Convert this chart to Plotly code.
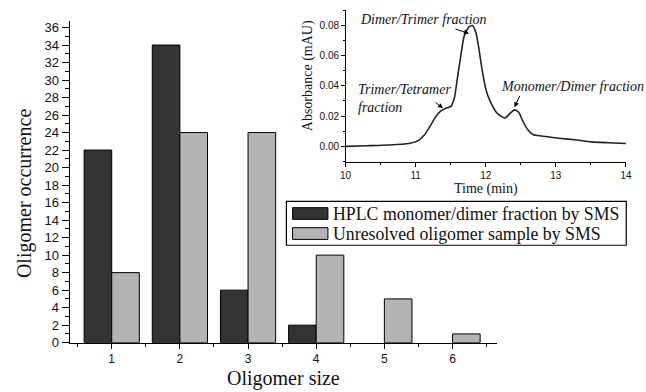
import plotly.graph_objects as go

# ---- data ----
oligomer_size = [1, 2, 3, 4, 5, 6]
hplc_counts = [22, 34, 6, 2, 0, 0]
unresolved_counts = [8, 24, 24, 10, 5, 1]
series_names = ["HPLC monomer/dimer fraction by SMS", "Unresolved oligomer sample by SMS"]

time_min = [10.0, 10.3, 10.62, 10.9, 11.04, 11.13, 11.22, 11.29, 11.36, 11.43, 11.5, 11.55,
            11.6, 11.65, 11.69, 11.76, 11.81, 11.86, 11.9, 11.95, 12.0, 12.06, 12.16, 12.27,
            12.34, 12.41, 12.47, 12.53, 12.6, 12.67, 12.86, 13.04, 13.3, 13.51, 13.75, 14.0]
absorbance = [0.0, 0.0004, 0.0009, 0.0019, 0.004, 0.0079, 0.0144, 0.0198, 0.0234, 0.0252,
              0.0262, 0.0316, 0.0466, 0.0617, 0.0725, 0.0789, 0.0798, 0.075, 0.065, 0.050,
              0.038, 0.030, 0.022, 0.0187, 0.0215, 0.0241, 0.0225, 0.0166, 0.011, 0.0079,
              0.0065, 0.0054, 0.0042, 0.003, 0.0024, 0.0019]

W, H = 646, 392
SERIF = "Liberation Serif, Times New Roman, serif"
SANS = "Liberation Sans, Arial, sans-serif"
DARK = "#333333"
LIGHT = "#b4b4b4"
TXT = "#111111"


def px(x):
    return x / W


def py(y):
    return 1 - y / H


def nz(vals):
    # zero counts draw no bar
    return [v if v > 0 else None for v in vals]


fig = go.Figure()
fig.add_trace(go.Bar(x=oligomer_size, y=nz(hplc_counts), name=series_names[0],
                     marker=dict(color=DARK, line=dict(color="black", width=1)),
                     showlegend=False))
fig.add_trace(go.Bar(x=oligomer_size, y=nz(unresolved_counts), name=series_names[1],
                     marker=dict(color=LIGHT, line=dict(color="black", width=1)),
                     showlegend=False))
fig.add_trace(go.Scatter(x=time_min, y=absorbance, mode="lines", xaxis="x2", yaxis="y2",
                         line=dict(color="#222222", width=1.6, shape="spline", smoothing=0.6),
                         showlegend=False))

fig.update_layout(
    width=W, height=H,
    margin=dict(l=0, r=0, t=0, b=0),
    paper_bgcolor="white", plot_bgcolor="rgba(0,0,0,0)",
    barmode="group", bargap=0.19, bargroupgap=0,
    xaxis=dict(domain=[px(65), px(500)], range=[0.385, 6.648],
               tickvals=oligomer_size, ticks="outside", ticklen=5, tickwidth=1.2,
               tickcolor="black",
               minor=dict(tickvals=[0.5, 1.5, 2.5, 3.5, 4.5, 5.5, 6.5], ticklen=3.5,
                          tickcolor="black", ticks="outside"),
               showline=True, linecolor="black", linewidth=1.3, showgrid=False,
               zeroline=False, tickfont=dict(family=SANS, size=12, color=TXT)),
    yaxis=dict(domain=[py(349.7), py(20.7)], range=[0, 36.72], dtick=2, ticks="outside",
               ticklen=7, tickwidth=1.2, tickcolor="black",
               minor=dict(dtick=1, ticklen=4, tickcolor="black", ticks="outside"),
               showline=True, linecolor="black", linewidth=1.3, showgrid=False,
               zeroline=False, tickfont=dict(family=SANS, size=13, color=TXT)),
    xaxis2=dict(domain=[px(346), px(631.7)], range=[10, 14], dtick=1, anchor="y2",
                ticks="outside", ticklen=4, tickcolor="black",
                minor=dict(dtick=0.5, ticklen=2, tickcolor="black", ticks="outside"),
                showline=True, linecolor="black", linewidth=1, showgrid=False,
                zeroline=False, tickfont=dict(family=SANS, size=10, color=TXT)),
    yaxis2=dict(domain=[py(164.3), py(9.3)], range=[-0.01, 0.09], anchor="x2",
                tickvals=[0, 0.02, 0.04, 0.06, 0.08], tickformat=".2f",
                ticks="outside", ticklen=3.5, tickcolor="black",
                minor=dict(dtick=0.01, ticklen=2, tickcolor="black", ticks="outside"),
                showline=True, linecolor="black", linewidth=1, showgrid=False,
                zeroline=False, tickfont=dict(family=SANS, size=10, color=TXT)),
)

# axis titles
def title(text, x, y, size, angle=0):
    fig.add_annotation(text=text, x=px(x), y=py(y), xref="paper", yref="paper",
                       xanchor="center", yanchor="middle", showarrow=False, textangle=angle,
                       borderpad=0, font=dict(family=SERIF, size=size, color=TXT))


title("Oligomer size", 282.5, 386, 20)
title("Oligomer occurrence", 19.5, 197.5, 20, -90)
title("Time (min)", 489, 192, 14)
title("Absorbance (mAU)", 308, 76.7, 14, -90)

# inset annotations (italic labels + arrows)
ann_font = dict(family=SERIF, size=14, color=TXT)
fig.add_annotation(text="<i>Dimer/Trimer fraction</i>", x=px(358.5), y=py(19), xref="paper",
                   yref="paper", xanchor="left", yanchor="middle", showarrow=False,
                   font=ann_font)
fig.add_annotation(text="<i>Trimer/Tetramer</i><br><i>fraction</i>", x=px(356.5), y=py(100),
                   xref="paper", yref="paper", xanchor="left", yanchor="middle",
                   align="left", showarrow=False, font=ann_font)
fig.add_annotation(text="<i>Monomer/Dimer fraction</i>", x=px(502), y=py(88), xref="paper",
                   yref="paper", xanchor="left", yanchor="middle", showarrow=False,
                   font=ann_font)
for hx, hy, ax, ay in [(11.76, 0.0745, -15, -5), (11.39, 0.0252, -9, -7),
                       (12.41, 0.0258, 6, -13)]:
    fig.add_annotation(text="", x=hx, y=hy, xref="x2", yref="y2", ax=ax, ay=ay,
                       showarrow=True, arrowhead=2, arrowsize=1, arrowwidth=1,
                       arrowcolor="black")

# legend box
fig.add_shape(type="rect", xref="paper", yref="paper", x0=px(285.7), x1=px(632),
              y0=py(250), y1=py(205), line=dict(color="black", width=1.2),
              fillcolor="white", layer="above")
for (yc, col, name) in [(217.5, DARK, series_names[0]), (238, LIGHT, series_names[1])]:
    fig.add_shape(type="rect", xref="paper", yref="paper", x0=px(292), x1=px(328),
                  y0=py(yc + 6), y1=py(yc - 6), line=dict(color="black", width=1),
                  fillcolor=col, layer="above")
    fig.add_annotation(text=name, x=px(331), y=py(yc), xref="paper", yref="paper",
                       xanchor="left", yanchor="middle", showarrow=False,
                       font=dict(family=SERIF, size=17.8, color=TXT))

fig.write_html("out.html")
